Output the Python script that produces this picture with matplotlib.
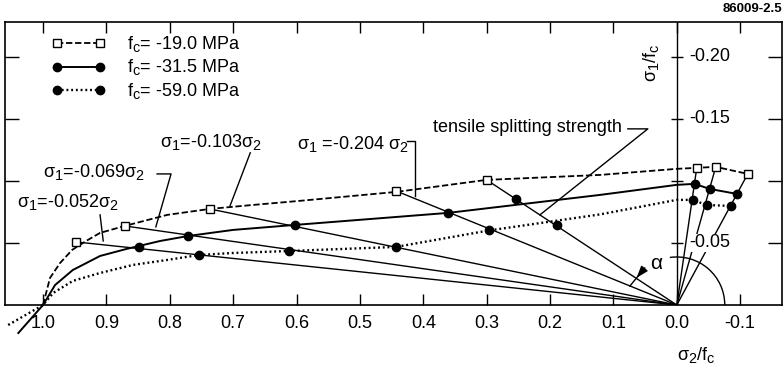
import matplotlib
matplotlib.use('Agg')
import matplotlib.pyplot as plt
from matplotlib.lines import Line2D
from matplotlib.patches import Arc

try:
    import matplotlib._mathtext as _mt
    _mt.SHRINK_FACTOR = 0.8
    _mt.FontConstantsBase.sub1 = 0.35
    _mt.FontConstantsBase.sub2 = 0.45
except Exception:
    pass

plt.rcParams['font.family'] = ['Liberation Sans', 'DejaVu Sans']
plt.rcParams['mathtext.fontset'] = 'custom'
plt.rcParams['mathtext.rm'] = 'Liberation Sans'
plt.rcParams['mathtext.it'] = 'Liberation Sans'
plt.rcParams['mathtext.bf'] = 'Liberation Sans:bold'

# ---------------- data ----------------
series_labels = [r'$\mathrm{f_c}$= -19.0 MPa',
                 r'$\mathrm{f_c}$= -31.5 MPa',
                 r'$\mathrm{f_c}$= -59.0 MPa']

# failure envelopes (sigma2/fc, sigma1/fc)
env19_x = [1.0, 0.989, 0.973, 0.954, 0.932, 0.910, 0.871, 0.804, 0.737, 0.669,
           0.595, 0.443, 0.300, 0.121, 0.0, -0.0315, -0.0615, -0.112]
env19_y = [0.0, -0.0218, -0.0339, -0.0444, -0.0516, -0.0581, -0.0637, -0.0726,
           -0.0774, -0.0806, -0.0839, -0.0911, -0.1008, -0.1048, -0.1097,
           -0.1105, -0.1113, -0.1056]

env31_x = [1.039, 1.0, 0.981, 0.953, 0.910, 0.868, 0.815, 0.771, 0.700, 0.603,
           0.361, 0.121, 0.0, -0.028, -0.052, -0.095]
env31_y = [0.0226, 0.0, -0.0161, -0.0282, -0.0395, -0.0452, -0.0516, -0.0556,
           -0.0605, -0.0645, -0.0742, -0.0887, -0.0968, -0.0976, -0.0935, -0.0895]

env59_x = [1.055, 1.0, 0.984, 0.953, 0.910, 0.858, 0.804, 0.754, 0.700, 0.612,
           0.443, 0.297, 0.121, 0.0, -0.025, -0.047, -0.085]
env59_y = [0.0161, 0.0, -0.0097, -0.0194, -0.0258, -0.0323, -0.0363, -0.0403,
           -0.0419, -0.0435, -0.0468, -0.0600, -0.0730, -0.0847, -0.0847,
           -0.0806, -0.0798]

# measured points
pts19_x = [0.948, 0.871, 0.737, 0.443, 0.300, -0.0315, -0.0615, -0.112]
pts19_y = [-0.0508, -0.0637, -0.0774, -0.0919, -0.1008, -0.1105, -0.1113, -0.1056]
pts31_x = [0.849, 0.771, 0.603, 0.361, 0.254, -0.028, -0.052, -0.095]
pts31_y = [-0.0468, -0.0556, -0.0645, -0.0742, -0.0855, -0.0976, -0.0935, -0.0895]
pts59_x = [0.754, 0.612, 0.443, 0.297, 0.189, -0.025, -0.047, -0.085]
pts59_y = [-0.0403, -0.0435, -0.0468, -0.0605, -0.0645, -0.0847, -0.0806, -0.0798]

xticks = [1.0, 0.9, 0.8, 0.7, 0.6, 0.5, 0.4, 0.3, 0.2, 0.1, 0.0, -0.1]
xticklabels = ['1.0', '0.9', '0.8', '0.7', '0.6', '0.5', '0.4', '0.3', '0.2',
               '0.1', '0.0', '-0.1']
yticks = [-0.05, -0.10, -0.15, -0.20]
yticklabels = ['-0.05', '', '-0.15', '-0.20']

ray_labels = [r'$\sigma_1$=-0.052$\sigma_2$',
              r'$\sigma_1$=-0.069$\sigma_2$',
              r'$\sigma_1$=-0.103$\sigma_2$',
              r'$\sigma_1$ =-0.204 $\sigma_2$']
tensile_label = 'tensile splitting strength'

# ---------------- figure ----------------
W, H = 784, 377
fig = plt.figure(figsize=(W / 100, H / 100), dpi=100)
ax = fig.add_axes([5 / W, 1 - 305 / H, 777 / W, 283 / H])
ax.set_xlim(1.06, -0.166)
ax.set_ylim(0.0, -0.228)

FS = 13
K = 'black'

# radial load paths from origin to the outermost (fc=-19.0) points
for x, y in zip(pts19_x, pts19_y):
    ax.plot([0, x], [0, y], color=K, lw=1.0, zorder=2)

# envelopes
ax.plot(env19_x, env19_y, color=K, lw=1.3, ls=(0, (3.5, 1.5)), zorder=3)
ax.plot(env31_x, env31_y, color=K, lw=1.4, ls='-', zorder=3, clip_on=False)
ax.plot(env59_x, env59_y, color=K, lw=1.7, ls=(0, (0.8, 1.2)), zorder=3,
        clip_on=False)

# markers
ax.plot(pts19_x, pts19_y, ls='none', marker='s', ms=5.5, mfc='white', mec=K,
        mew=1.0, zorder=5)
ax.plot(pts31_x, pts31_y, ls='none', marker='o', ms=6, mfc=K, mec=K, zorder=5)
ax.plot(pts59_x, pts59_y, ls='none', marker='o', ms=6, mfc=K, mec=K, zorder=5)

# axis at sigma2 = 0
ax.axvline(0, color=K, lw=1.0, zorder=2)
ax.plot([0] * len(yticks), yticks, ls='none', marker='_', ms=9, mew=1.0,
        color=K, zorder=4)
for yv, lab in zip(yticks, yticklabels):
    if lab:
        ax.text(-0.0195, yv, lab, fontsize=FS, ha='left', va='center', zorder=6,
                bbox=dict(facecolor='white', edgecolor='none', pad=0.5))

# frame ticks
ax.set_xticks(xticks)
ax.set_xticklabels(xticklabels, fontsize=FS)
ax.set_yticks(yticks)
ax.tick_params(axis='x', direction='in', length=8, width=1.0, top=True,
               bottom=True, pad=7)
ax.tick_params(axis='y', direction='in', length=10, width=1.0, left=True,
               right=True, labelleft=False)
for s in ax.spines.values():
    s.set_linewidth(1.2)

# axis labels
ax.text(-0.0315, 0.041, r'$\sigma_2$/$\mathrm{f_c}$', fontsize=FS, ha='center',
        va='center')
ax.text(0.0394, -0.195, r'$\sigma_1$/$\mathrm{f_c}$', fontsize=FS, ha='center',
        va='center', rotation=90)

# ray labels with leaders
ax.text(1.041, -0.0823, ray_labels[0], fontsize=FS, ha='left', va='center')
ax.plot([0.910, 0.905], [-0.0726, -0.0516], color=K, lw=1.0)

ax.text(1.000, -0.1065, ray_labels[1], fontsize=FS, ha='left', va='center')
ax.plot([0.820, 0.798, 0.822], [-0.1056, -0.1056, -0.0629], color=K, lw=1.0)

ax.text(0.815, -0.1306, ray_labels[2], fontsize=FS, ha='left', va='center')
ax.plot([0.673, 0.705], [-0.1226, -0.0798], color=K, lw=1.0)

ax.text(0.599, -0.1290, ray_labels[3], fontsize=FS, ha='left', va='center')
ax.plot([0.426, 0.413, 0.413], [-0.1323, -0.1323, -0.0879], color=K, lw=1.0)

ax.text(0.385, -0.1427, tensile_label, fontsize=FS, ha='left', va='center')
ax.plot([0.0773, 0.0457, 0.216], [-0.1419, -0.1419, -0.0726], color=K, lw=1.0)

# angle alpha
ax.add_patch(Arc((0, 0), 2 * 0.0757, 2 * 0.0387, theta1=180, theta2=286,
                 color=K, lw=1.0))
ax.text(0.0315, -0.0331, r'$\alpha$', fontsize=15, ha='center', va='center')
ax.plot([0.0505, 0.074], [-0.0298, -0.0153], color=K, lw=1.0)
ax.annotate('', xy=(0.066, -0.0203), xytext=(0.0505, -0.0298),
            arrowprops=dict(arrowstyle='-|>,head_length=0.7,head_width=0.25',
                            color=K, lw=1.0))

# legend
handles = [
    Line2D([], [], color=K, lw=1.3, ls=(0, (3.5, 1.5)), marker='s', ms=5.5,
           mfc='white', mec=K),
    Line2D([], [], color=K, lw=1.4, ls='-', marker='o', ms=6, mfc=K, mec=K),
    Line2D([], [], color=K, lw=1.7, ls=(0, (0.8, 1.2)), marker='o', ms=6,
           mfc=K, mec=K),
]
ax.legend(handles, series_labels, loc='upper left', bbox_to_anchor=(0.06, 0.955),
          frameon=False, numpoints=2, handlelength=3.0, handletextpad=1.2,
          labelspacing=0.15, borderpad=0, borderaxespad=0, fontsize=FS)

fig.text(782 / W, 1 - 9 / H, '86009-2.5', fontsize=9.5, fontweight='bold',
         ha='right', va='center')

fig.savefig('out.png', dpi=100)
